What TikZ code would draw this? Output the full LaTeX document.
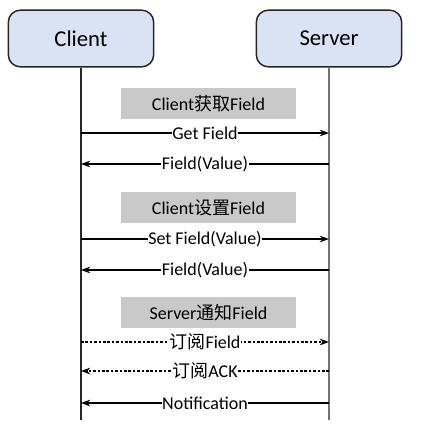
\documentclass[tikz,border=0pt]{standalone}
\usepackage{fontspec}
\setmainfont{Carlito}
\newfontfamily\cjk{Noto Sans CJK SC}
\usetikzlibrary{arrows.meta}
\definecolor{partfill}{HTML}{DAE3F3}
\definecolor{phasefill}{HTML}{C9C9C9}
\tikzset{
  party/.style={draw=black!85, line width=1.1pt, fill=partfill, rounded corners=9pt,
    minimum width=109pt, minimum height=42.5pt, font=\fontsize{17}{20}\selectfont},
  phase/.style={fill=phasefill, minimum width=131pt, minimum height=23.5pt,
    font=\fontsize{13.5}{16}\selectfont},
  msg/.style={line width=0.85pt, -{Stealth[length=7pt,width=5pt]}},
  sub/.style={msg, dash pattern=on 2pt off 1.3pt},
  lbl/.style={fill=white, inner sep=0.5pt, font=\fontsize{13.5}{16}\selectfont}
}
\begin{document}
\begin{tikzpicture}[x=0.75pt,y=-0.75pt]
  \useasboundingbox (0,0) rectangle (427,436);
  \draw
    (81,38.5) node[party] (client){Client}
    (329,38.5) node[party] (server){Server}
    (208.5,103.5) node[phase] (get){Client{\cjk 获取}Field}
    (208.5,207.5) node[phase] (set){Client{\cjk 设置}Field}
    (208.5,312.5) node[phase] (notify){Server{\cjk 通知}Field};
  % lifelines and message points
  \coordinate (cEnd) at (81,420);
  \coordinate (sEnd) at (329,420);
  \coordinate (c1) at (81,133);  \coordinate (s1) at (329,133);
  \coordinate (c2) at (81,164);  \coordinate (s2) at (329,164);
  \coordinate (c3) at (81,239);  \coordinate (s3) at (329,239);
  \coordinate (c4) at (81,270);  \coordinate (s4) at (329,270);
  \coordinate (c5) at (81,342);  \coordinate (s5) at (329,342);
  \coordinate (c6) at (81,371);  \coordinate (s6) at (329,371);
  \coordinate (c7) at (81,403);  \coordinate (s7) at (329,403);
  \begin{scope}[-]
    \draw[line width=0.9pt, black!85] (client) -- (cEnd);
    \draw[line width=0.9pt, black!55] (server) -- (sEnd);
  \end{scope}
  \draw[msg] (c1) -- node[lbl]{Get Field} (s1);
  \draw[msg] (s2) -- node[lbl]{Field(Value)} (c2);
  \draw[msg] (c3) -- node[lbl]{Set Field(Value)} (s3);
  \draw[msg] (s4) -- node[lbl]{Field(Value)} (c4);
  \draw[sub] (c5) -- node[lbl]{{\cjk 订阅}Field} (s5);
  \draw[sub] (s6) -- node[lbl]{{\cjk 订阅}ACK} (c6);
  \draw[msg] (s7) -- node[lbl]{Notification} (c7);
\end{tikzpicture}
\end{document}
